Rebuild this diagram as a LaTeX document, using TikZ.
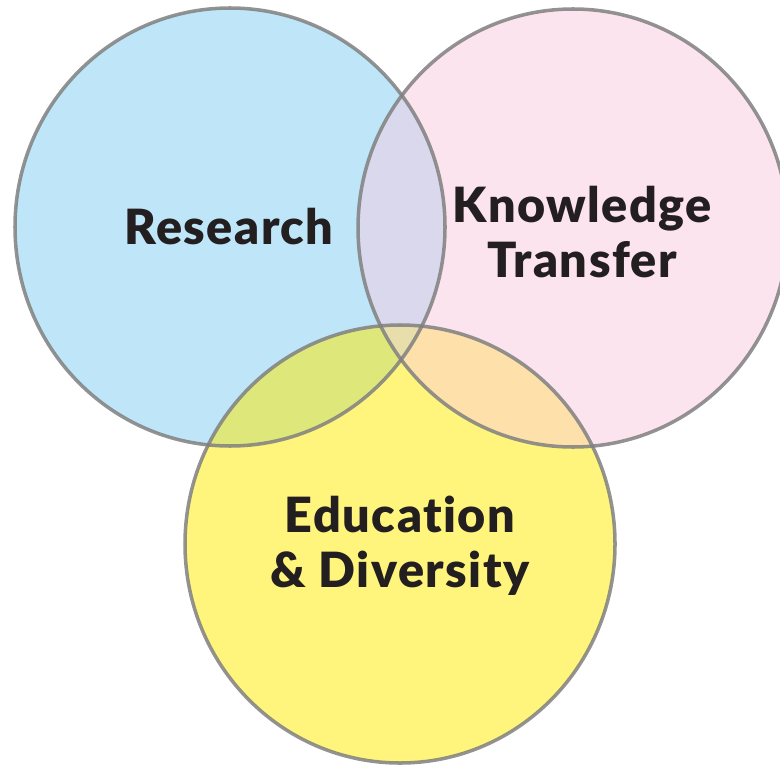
\documentclass[tikz,border=0pt]{standalone}
\usepackage{fontspec}
\setmainfont{Lato}[BoldFont={Lato Black},BoldFeatures={LetterSpace=3.0,Ligatures=NoCommon}]
\definecolor{rescol}{RGB}{190,230,248}
\definecolor{ktcol}{RGB}{252,228,238}
\definecolor{educol}{RGB}{255,245,125}
\definecolor{rkcol}{RGB}{218,216,236}
\definecolor{recol}{RGB}{222,232,122}
\definecolor{kecol}{RGB}{253,224,170}
\definecolor{allcol}{RGB}{232,222,172}
\definecolor{txtcol}{RGB}{35,31,32}
\tikzset{
  ring/.style={draw=black!50,draw opacity=0.85,line width=1pt},
  blob/.style={x radius=215,y radius=219},
  label/.style={font=\fontsize{13.8}{15.7}\selectfont\bfseries,text=txtcol,align=center}
}
\begin{document}
\begin{tikzpicture}[x=0.01cm,y=-0.01cm]
    \useasboundingbox (0,0) rectangle (780,764);
    \coordinate (res) at (230,227);%Research
    \coordinate (kt) at (573,228);%Knowledge Transfer
    \coordinate (edu) at (400,544);%Education
    \fill[rescol] (res) circle[blob];
    \fill[ktcol] (kt) circle[blob];
    \fill[educol] (edu) circle[blob];
    \begin{scope}%overlaps
        \clip (res) circle[blob];
        \fill[rkcol] (kt) circle[blob];
        \fill[recol] (edu) circle[blob];
    \end{scope}
    \begin{scope}
        \clip (kt) circle[blob];
        \fill[kecol] (edu) circle[blob];
        \clip (res) circle[blob];
        \fill[allcol] (edu) circle[blob];
    \end{scope}
    \draw[ring] (res) circle[blob];
    \draw[ring] (kt) circle[blob];
    \draw[ring] (edu) circle[blob];
    \node[label] (lres) at (229,227) {Research};
    \node[label] (lkt) at (582,232) {Knowledge\\Transfer};
    \node[label] (ledu) at (400,546) {Education\\\& Diversity};
\end{tikzpicture}
\end{document}
